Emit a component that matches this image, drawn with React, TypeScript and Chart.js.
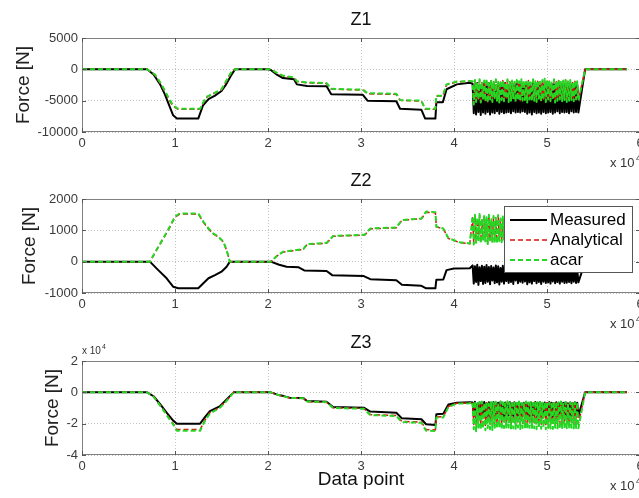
import { useEffect, useRef } from 'react';
import { Chart, registerables } from 'chart.js';

Chart.register(...registerables);

const FONT = '"Liberation Sans", Arial, Helvetica, sans-serif';

type P = [number, number];

// x axis: data point index (shown in units of 10^4)
const X_MAX = 60000;
const X_STEP = 10000;
const X_TICK_LABELS = ['0', '1', '2', '3', '4', '5', '6'];

// sampling of the oscillating section (from 42000, one value every 125 points)
const OSC_START = 42000;
const OSC_STEP = 125;
const TAIL: P[] = [[54100, 0], [58600, 0]];

const SERIES_NAMES = ['Measured', 'Analytical', 'acar'];

// ---------------- Z1 ----------------
const Z1_MEASURED: P[] = [
  [0, 0], [7000, 0], [7700, -830], [8400, -2400], [8900, -3960], [9450, -6040], [9800, -7340], [10200, -7860],
  [12500, -7860], [13000, -5800], [13600, -4750], [14300, -4200], [15000, -3450], [15500, -2400], [16100, -800], [16450, 0],
  [20000, 0], [20300, -100], [21000, -900], [21600, -1400], [22800, -1600], [23100, -2400], [24200, -2650], [26300, -2700],
  [26800, -3960], [30200, -4060], [30700, -5000], [33800, -5100], [34200, -6300], [36500, -6460], [36900, -7860], [38000, -7860],
  [38100, -5260], [38800, -5260], [39200, -3180], [40300, -2400], [41700, -2140],
];
const Z1_ANALYTICAL: P[] = [
  [0, 0], [7000, 0], [7800, -850], [8500, -2450], [9250, -4550], [9750, -5850], [10300, -6350],
  [12700, -6350], [13300, -4550], [14300, -3750], [15000, -3250], [15500, -1950], [16100, -350], [16450, 0],
  [20000, 0], [20300, 0], [21000, -650], [21600, -1050], [22800, -1350], [23100, -1950], [24200, -2150], [26300, -2250],
  [26800, -3150], [30200, -3300], [30700, -3900], [33800, -4000], [34200, -4950], [36500, -5050], [36900, -6350], [38000, -6350],
  [38100, -4250], [38800, -4250], [39200, -2450], [40300, -2000], [41700, -1900],
];
const Z1_ACAR: P[] = [
  [0, 0], [7000, 0], [7850, -830], [8550, -2400], [9300, -4480], [9800, -5780], [10350, -6300],
  [12700, -6300], [13300, -4480], [14300, -3700], [15000, -3180], [15500, -1875], [16100, -300], [16450, 0],
  [20000, 0], [20300, 0], [21000, -600], [21600, -1000], [22800, -1300], [23100, -1900], [24200, -2100], [26300, -2200],
  [26800, -3100], [30200, -3250], [30700, -3800], [33800, -3900], [34200, -4900], [36500, -5000], [36900, -6300], [38000, -6300],
  [38100, -4200], [38800, -4200], [39200, -2400], [40300, -1950], [41700, -1850],
];
const Z1_MEASURED_OSC = [
  -2300, -7000, -2500, -7200, -2200, -6800, -2600, -7300, -2400, -6900, -2300, -7100, -2700, -6800, -2200, -7200,
  -2500, -6900, -2400, -7000, -2600, -6700, -2300, -7100, -2500, -6800, -2400, -7000, -2200, -6900, -2600, -6800,
  -2300, -7000, -2500, -6700, -2400, -6900, -2300, -6800, -2500, -6900, -2400, -6700, -2600, -6800, -2200, -7100,
  -2400, -6900, -2700, -7200, -2300, -6800, -2500, -7000, -2200, -6900, -2600, -7100, -2400, -6800, -2300, -7000,
  -2500, -6900, -2700, -6800, -2300, -7100, -2400, -6900, -2600, -6700, -2200, -7000, -2500, -6800, -2400, -6900,
  -2300, -6800, -2600, -7000, -2400, -6700, -2500, -6900, -2300, -6800, -2400, -6900,
];
const Z1_ANALYTICAL_OSC = [
  -2000, -5400, -1800, -5100, -2200, -4800, -1700, -5200, -2100, -4600, -1900, -5000, -1600, -5200, -2300, -4700,
  -1800, -5100, -2000, -4500, -1700, -4900, -2100, -5200, -1900, -4800, -1800, -5000, -2200, -4600, -1700, -5100,
  -2000, -4900, -1900, -4700, -2100, -5100, -1800, -4800, -2000, -5000, -1700, -4900, -1900, -4800, -2100, -5200,
  -1800, -4700, -2200, -5000, -1700, -4900, -2000, -5100, -1900, -4600, -2100, -5000, -1800, -4800, -1600, -5100,
  -2000, -4700, -1900, -5000, -2200, -4800, -1700, -5200, -2000, -4900, -1800, -4700, -2100, -5000, -1900, -4800,
  -1700, -5100, -2000, -4900, -1800, -4800, -2100, -5000, -1900, -4700, -2000, -4900,
];
const Z1_ACAR_OSC = [
  -1900, -5600, -1700, -5200, -2100, -4900, -1600, -5300, -2000, -4700, -1800, -5100, -1500, -5300, -2200, -4800,
  -1700, -5200, -1900, -4600, -1600, -5000, -2000, -5300, -1800, -4900, -1700, -5100, -2100, -4700, -1600, -5200,
  -1900, -5000, -1800, -4800, -2000, -5200, -1700, -4900, -1900, -5100, -1600, -5000, -1800, -4900, -2000, -5300,
  -1700, -4800, -2100, -5100, -1600, -5000, -1900, -5200, -1800, -4700, -2000, -5100, -1700, -4900, -1500, -5200,
  -1900, -4800, -1800, -5100, -2100, -4900, -1600, -5300, -1900, -5000, -1700, -4800, -2000, -5100, -1800, -4900,
  -1600, -5200, -1900, -5000, -1700, -4900, -2000, -5100, -1800, -4800, -1900, -5000,
];

// ---------------- Z2 ----------------
const Z2_MEASURED: P[] = [
  [0, 0], [7300, 0], [8200, -270], [9100, -530], [9800, -800], [10350, -850], [12500, -850], [13050, -690],
  [13600, -530], [14300, -430], [15000, -320], [15550, -160], [15900, 0], [20300, 0], [21200, -100], [22000, -160],
  [23300, -180], [23900, -280], [26300, -300], [26900, -430], [30300, -460], [31000, -560], [33800, -590], [34400, -740],
  [36500, -770], [37000, -850], [38000, -850], [38100, -580], [38850, -570], [39200, -270], [40000, -220], [41700, -210],
];
const Z2_ANALYTICAL: P[] = [
  [0, 0], [7300, 0], [8000, 360], [8750, 740], [9450, 1100], [10000, 1420], [10500, 1520], [12500, 1520],
  [13050, 1260], [13600, 1040], [14100, 890], [14650, 790], [15200, 630], [15550, 360], [15900, 0], [20300, 0],
  [21000, 190], [21650, 310], [23800, 390], [24200, 550], [26300, 590], [27000, 810], [30400, 850], [31000, 1050],
  [33800, 1080], [34400, 1320], [36500, 1370], [37000, 1580], [38000, 1560], [38100, 1110], [38850, 1050], [39400, 740],
  [40600, 610], [41700, 570],
];
const Z2_ACAR: P[] = [
  [0, 0], [7300, 0], [8000, 370], [8750, 750], [9450, 1120], [10000, 1440], [10500, 1540], [12500, 1540],
  [13050, 1280], [13600, 1060], [14100, 900], [14650, 800], [15200, 640], [15550, 370], [15900, 0], [20300, 0],
  [21000, 200], [21650, 320], [23800, 400], [24200, 560], [26300, 600], [27000, 820], [30400, 860], [31000, 1060],
  [33800, 1090], [34400, 1330], [36500, 1380], [37000, 1600], [38000, 1580], [38100, 1120], [38850, 1060], [39400, 750],
  [40600, 620], [41700, 580],
];
const Z2_MEASURED_OSC = [
  -120, -700, -150, -650, -100, -740, -180, -620, -130, -710, -160, -680, -110, -640, -170, -720,
  -140, -600, -190, -690, -120, -660, -150, -730, -200, -640, -130, -700, -170, -620, -140, -680,
  -210, -650, -160, -710, -180, -600, -150, -690, -220, -640, -170, -670, -200, -630, -140, -720,
  -190, -660, -230, -700, -160, -620, -210, -690, -180, -650, -240, -710, -170, -640, -220, -680,
  -250, -660, -190, -700, -230, -630, -200, -690, -260, -650, -210, -700, -240, -640, -220, -680,
  -250, -670, -200, -650, -230, -690, -260, -640, -210, -680, -240, -660,
];
const Z2_ANALYTICAL_OSC = [
  1400, 600, 1450, 650, 1350, 700, 1470, 620, 1330, 730, 1430, 660, 1380, 600, 1450, 720,
  1300, 640, 1410, 680, 1350, 620, 1440, 700, 1330, 660, 1390, 740, 1450, 640, 1310, 690,
  1420, 630, 1370, 720, 1330, 660, 1400, 610, 1350, 680, 1430, 640, 1310, 700, 1390, 650,
  1440, 620, 1360, 710, 1420, 660, 1330, 690, 1400, 630, 1450, 700, 1350, 640, 1410, 680,
  1370, 620, 1430, 710, 1320, 650, 1400, 690, 1360, 630, 1440, 700, 1340, 660, 1410, 620,
  1380, 690, 1330, 640, 1420, 700, 1360, 650, 1400, 680, 1350, 660,
];
const Z2_ACAR_OSC = [
  1450, 550, 1500, 600, 1400, 650, 1520, 580, 1380, 700, 1480, 620, 1420, 560, 1500, 680,
  1350, 600, 1460, 640, 1400, 580, 1490, 660, 1380, 620, 1440, 700, 1500, 600, 1360, 650,
  1470, 590, 1420, 680, 1380, 620, 1450, 570, 1400, 640, 1480, 600, 1360, 660, 1440, 610,
  1490, 580, 1410, 670, 1470, 620, 1380, 650, 1450, 590, 1500, 660, 1400, 600, 1460, 640,
  1420, 580, 1480, 670, 1370, 610, 1450, 650, 1410, 590, 1490, 660, 1390, 620, 1460, 580,
  1430, 650, 1380, 600, 1470, 660, 1410, 610, 1450, 640, 1400, 620,
];

// ---------------- Z3 ----------------
const Z3_MEASURED: P[] = [
  [0, 0], [7000, 0], [7700, -2500], [8400, -7500], [9100, -13000], [9800, -18000], [10200, -20000], [12700, -20000],
  [13200, -16000], [13750, -12000], [14800, -9000], [15550, -4500], [16300, 0], [20300, 0], [21000, -1500], [21700, -2400],
  [22300, -3400], [23800, -3600], [24200, -5500], [26300, -6000], [27000, -9400], [30300, -9800], [31000, -12300], [33800, -13000],
  [34400, -16600], [36500, -17200], [37000, -20400], [38000, -20900], [38100, -14000], [38850, -13600], [39400, -7700], [40300, -6600],
  [41700, -6400],
];
const Z3_ANALYTICAL: P[] = [
  [0, 0], [7000, 0], [7700, -2700], [8400, -8200], [9100, -14000], [9800, -20000], [10200, -23800], [12700, -23800],
  [13200, -18000], [13750, -13000], [14800, -9700], [15550, -5200], [16300, 0], [20300, 0], [21000, -1600], [21700, -2700],
  [22300, -3600], [23800, -3900], [24200, -6000], [26300, -6400], [27000, -9900], [30300, -10300], [31000, -14200], [33800, -14800],
  [34400, -18600], [36500, -19000], [37000, -23800], [38000, -24000], [38100, -15800], [38850, -15600], [39400, -9000], [40300, -7000],
  [41700, -6800],
];
const Z3_ACAR: P[] = [
  [0, 0], [7000, 0], [7700, -2800], [8400, -8500], [9100, -14500], [9800, -20500], [10200, -24500], [12700, -24500],
  [13200, -18500], [13750, -13500], [14800, -10000], [15550, -5500], [16300, 0], [20300, 0], [21000, -1500], [21700, -2600],
  [22300, -3500], [23800, -3800], [24200, -5800], [26300, -6300], [27000, -10000], [30300, -10500], [31000, -14500], [33800, -15100],
  [34400, -19000], [36500, -19400], [37000, -24500], [38000, -24700], [38100, -16100], [38850, -16000], [39400, -9300], [40300, -7200],
  [41700, -7000],
];
const Z3_MEASURED_OSC = [
  -6500, -15500, -6000, -16200, -7200, -15000, -6400, -15800, -6800, -14800, -6100, -16000, -7000, -15200, -6300, -15600,
  -6900, -14900, -6200, -15800, -7100, -15300, -6600, -15000, -6000, -15700, -7300, -15100, -6500, -15500, -6800, -14700,
  -6200, -15400, -7000, -15000, -6400, -15600, -6900, -14800, -6300, -15200, -7200, -15000, -6600, -15300, -6100, -15800,
  -6800, -15100, -6400, -15500, -7000, -14900, -6200, -15700, -6700, -15200, -6300, -15400, -7100, -15000, -6500, -15600,
  -6900, -14800, -6200, -15300, -6600, -15700, -7000, -15100, -6400, -15500, -6800, -14900, -6100, -15400, -6700, -15200,
  -6300, -15600, -7000, -15000, -6500, -15300, -6800, -15100, -6400, -15500, -6600, -15200,
];
const Z3_ANALYTICAL_OSC = [
  -7000, -20500, -6500, -21500, -7800, -19500, -7000, -21000, -6600, -20000, -7500, -21200, -6800, -19800, -8000, -20600,
  -6400, -21000, -7300, -19700, -6800, -20200, -7800, -19500, -6600, -20800, -7200, -19800, -7700, -20300, -6500, -19600,
  -7100, -20600, -7900, -20000, -6800, -20200, -7400, -19500, -6700, -20400, -7600, -19900, -7000, -20000, -6600, -20700,
  -7300, -19800, -6900, -20300, -7700, -19600, -6500, -20500, -7200, -20000, -6800, -20400, -7500, -19700, -7000, -20600,
  -6600, -19900, -7400, -20200, -6900, -20500, -7600, -19800, -6700, -20300, -7100, -20000, -6500, -20400, -7300, -19700,
  -6800, -20200, -7500, -19900, -7000, -20300, -6600, -20000, -7200, -20100, -6900, -20000,
];
const Z3_ACAR_OSC = [
  -6000, -23500, -5500, -24800, -7000, -22500, -6200, -24000, -5800, -23000, -6800, -24200, -6000, -22800, -7200, -23600,
  -5600, -24000, -6500, -22600, -6000, -23200, -7000, -22400, -5800, -23800, -6400, -22700, -6900, -23300, -5700, -22500,
  -6300, -23600, -7100, -22900, -6000, -23200, -6600, -22400, -5900, -23400, -6800, -22800, -6200, -23000, -5800, -23700,
  -6500, -22600, -6100, -23300, -6900, -22900, -5700, -23500, -6400, -22700, -6000, -23200, -6700, -22500, -6200, -23600,
  -5900, -22800, -6600, -23100, -6100, -23400, -6800, -22600, -6000, -23000, -6400, -23300, -5800, -22700, -6500, -23100,
  -6100, -22900, -6700, -23200, -6300, -22600, -5900, -23000, -6500, -22800, -6200, -23000,
];

// y axis ranges
const Z1_Y = { min: -10000, max: 5000, step: 5000, div: 1 };
const Z2_Y = { min: -1000, max: 2000, step: 1000, div: 1 };
const Z3_Y = { min: -40000, max: 20000, step: 20000, div: 10000 };

// ---------------- layout ----------------
const CANVAS_W = 680;
const PAD_TOP = 32;
const AXIS_W = 82;
const PLOT_RIGHT = 640;
const PLOT_H = 94;

type PanelSpec = {
  title: string;
  top: number; // page y of the plot area top
  bottomSpace: number;
  yRange: { min: number; max: number; step: number; div: number };
  yTitlePad: number;
  series: [P[], number[]][];
  legend: boolean;
  xTitle: boolean;
  yExponent: boolean;
};

const PANELS: PanelSpec[] = [
  {
    title: 'Z1', top: 38, bottomSpace: 45, yRange: Z1_Y, yTitlePad: 12.6,
    series: [[Z1_MEASURED, Z1_MEASURED_OSC], [Z1_ANALYTICAL, Z1_ANALYTICAL_OSC], [Z1_ACAR, Z1_ACAR_OSC]],
    legend: false, xTitle: false, yExponent: false,
  },
  {
    title: 'Z2', top: 199, bottomSpace: 45, yRange: Z2_Y, yTitlePad: 18.6,
    series: [[Z2_MEASURED, Z2_MEASURED_OSC], [Z2_ANALYTICAL, Z2_ANALYTICAL_OSC], [Z2_ACAR, Z2_ACAR_OSC]],
    legend: true, xTitle: false, yExponent: false,
  },
  {
    title: 'Z3', top: 361, bottomSpace: 43, yRange: Z3_Y, yTitlePad: 41.6,
    series: [[Z3_MEASURED, Z3_MEASURED_OSC], [Z3_ANALYTICAL, Z3_ANALYTICAL_OSC], [Z3_ACAR, Z3_ACAR_OSC]],
    legend: false, xTitle: true, yExponent: true,
  },
];

const STYLES = [
  { color: '#000000', width: 2, dash: [] as number[], order: 3 },
  { color: '#dd1111', width: 1.5, dash: [5, 3], order: 2 },
  { color: 'rgb(35,215,35)', width: 2, dash: [5, 3], order: 1 },
];

function buildSeries(head: P[], osc: number[]) {
  const pts = head.map(([x, y]) => ({ x, y }));
  osc.forEach((y, i) => pts.push({ x: OSC_START + i * OSC_STEP, y }));
  TAIL.forEach(([x, y]) => pts.push({ x, y }));
  return pts;
}

function Panel({ spec }: { spec: PanelSpec }) {
  const ref = useRef<HTMLCanvasElement>(null);
  const height = PAD_TOP + PLOT_H + spec.bottomSpace;

  useEffect(() => {
    const canvas = ref.current;
    if (!canvas) return;

    const decor = {
      id: 'decor',
      afterDatasetsDraw(chart: any) {
        const { ctx, chartArea: a, scales } = chart;
        const xs = scales.x;
        const ys = scales.y;
        ctx.save();
        // axes box
        ctx.strokeStyle = '#808080';
        ctx.lineWidth = 1;
        ctx.setLineDash([]);
        ctx.strokeRect(a.left + 0.5, a.top + 0.5, a.right - a.left - 1, a.bottom - a.top - 1);
        // inward tick marks
        ctx.strokeStyle = '#555';
        ctx.beginPath();
        xs.ticks.forEach((t: any) => {
          const px = Math.round(xs.getPixelForValue(t.value)) + 0.5;
          ctx.moveTo(px, a.bottom); ctx.lineTo(px, a.bottom - 4);
          ctx.moveTo(px, a.top); ctx.lineTo(px, a.top + 4);
        });
        ys.ticks.forEach((t: any) => {
          const py = Math.round(ys.getPixelForValue(t.value)) + 0.5;
          ctx.moveTo(a.left, py); ctx.lineTo(a.left + 4, py);
          ctx.moveTo(a.right, py); ctx.lineTo(a.right - 4, py);
        });
        ctx.stroke();

        // panel title
        ctx.fillStyle = '#111';
        ctx.font = `18px ${FONT}`;
        ctx.textAlign = 'center';
        ctx.textBaseline = 'middle';
        ctx.fillText(spec.title, (a.left + a.right) / 2, a.top - 17.5);

        // x-axis multiplier
        ctx.fillStyle = '#333';
        ctx.textAlign = 'left';
        ctx.textBaseline = 'alphabetic';
        ctx.font = `13px ${FONT}`;
        ctx.fillText('x 10', 610, a.bottom + 35);
        ctx.font = `9px ${FONT}`;
        ctx.fillText('4', 636, a.bottom + 29);

        // y-axis multiplier
        if (spec.yExponent) {
          ctx.font = `10px ${FONT}`;
          ctx.fillText('x 10', a.left, a.top - 7);
          ctx.font = `7px ${FONT}`;
          ctx.fillText('4', a.left + 20, a.top - 12);
        }

        // legend
        if (spec.legend) {
          const lx = a.left + 422;
          const ly = a.top + 7;
          ctx.fillStyle = '#ffffff';
          ctx.fillRect(lx, ly, 129, 67);
          ctx.strokeStyle = '#555';
          ctx.lineWidth = 1;
          ctx.strokeRect(lx + 0.5, ly + 0.5, 128, 66);
          chart.data.datasets.forEach((ds: any, i: number) => {
            const ry = ly + 14 + i * 20;
            ctx.save();
            ctx.strokeStyle = ds.borderColor;
            ctx.lineWidth = ds.borderWidth;
            ctx.setLineDash(ds.borderDash || []);
            ctx.beginPath();
            ctx.moveTo(lx + 6, ry);
            ctx.lineTo(lx + 43, ry);
            ctx.stroke();
            ctx.restore();
            ctx.fillStyle = '#000';
            ctx.font = `17px ${FONT}`;
            ctx.textAlign = 'left';
            ctx.textBaseline = 'middle';
            ctx.fillText(ds.label, lx + 46, ry);
          });
        }
        ctx.restore();
      },
    };

    const datasets = spec.series.map(([head, osc], i) => ({
      label: SERIES_NAMES[i],
      data: buildSeries(head, osc),
      borderColor: STYLES[i].color,
      borderWidth: STYLES[i].width,
      borderDash: STYLES[i].dash,
      order: STYLES[i].order,
      pointRadius: 0,
      tension: 0,
      fill: false,
      borderJoinStyle: 'round' as const,
    }));

    const yr = spec.yRange;
    const chart = new Chart(canvas, {
      type: 'line',
      data: { datasets },
      options: {
        animation: false,
        responsive: false,
        events: [],
        layout: { padding: { top: PAD_TOP, left: 0, right: CANVAS_W - PLOT_RIGHT, bottom: 0 } },
        plugins: { legend: { display: false }, tooltip: { enabled: false }, title: { display: false } },
        scales: {
          x: {
            type: 'linear',
            min: 0,
            max: X_MAX,
            afterFit: (s: any) => { s.height = spec.bottomSpace; },
            ticks: {
              stepSize: X_STEP,
              padding: 4,
              color: '#3a3a3a',
              font: { family: FONT, size: 13 },
              callback: (v: any) => X_TICK_LABELS[Math.round(Number(v) / X_STEP)] ?? '',
              maxRotation: 0,
            },
            grid: { color: '#c4c4c4', lineWidth: 1, drawTicks: false },
            border: { display: false, dash: [1, 2] },
            title: {
              display: spec.xTitle,
              text: 'Data point',
              color: '#111',
              font: { family: FONT, size: 19 },
              padding: { top: 0, bottom: 7 },
            },
          },
          y: {
            type: 'linear',
            min: yr.min,
            max: yr.max,
            afterFit: (s: any) => { s.width = AXIS_W; },
            ticks: {
              stepSize: yr.step,
              padding: 4,
              color: '#3a3a3a',
              font: { family: FONT, size: 13 },
              callback: (v: any) => String(Number(v) / yr.div),
            },
            grid: { color: '#c4c4c4', lineWidth: 1, drawTicks: false },
            border: { display: false, dash: [1, 2] },
            title: {
              display: true,
              text: 'Force [N]',
              color: '#222',
              font: { family: FONT, size: 19 },
              padding: { top: spec.yTitlePad, bottom: 0 },
            },
          },
        },
      },
      plugins: [decor],
    } as any);

    return () => chart.destroy();
  }, [spec]);

  return (
    <canvas
      ref={ref}
      width={CANVAS_W}
      height={height}
      style={{ position: 'absolute', left: 0, top: spec.top - PAD_TOP, width: CANVAS_W, height }}
    />
  );
}

export default function App() {
  return (
    <div
      style={{
        position: 'absolute',
        left: 0,
        top: 0,
        width: 639,
        height: 498,
        overflow: 'hidden',
        background: '#ffffff',
      }}
    >
      {PANELS.map((p) => (
        <Panel key={p.title} spec={p} />
      ))}
    </div>
  );
}
